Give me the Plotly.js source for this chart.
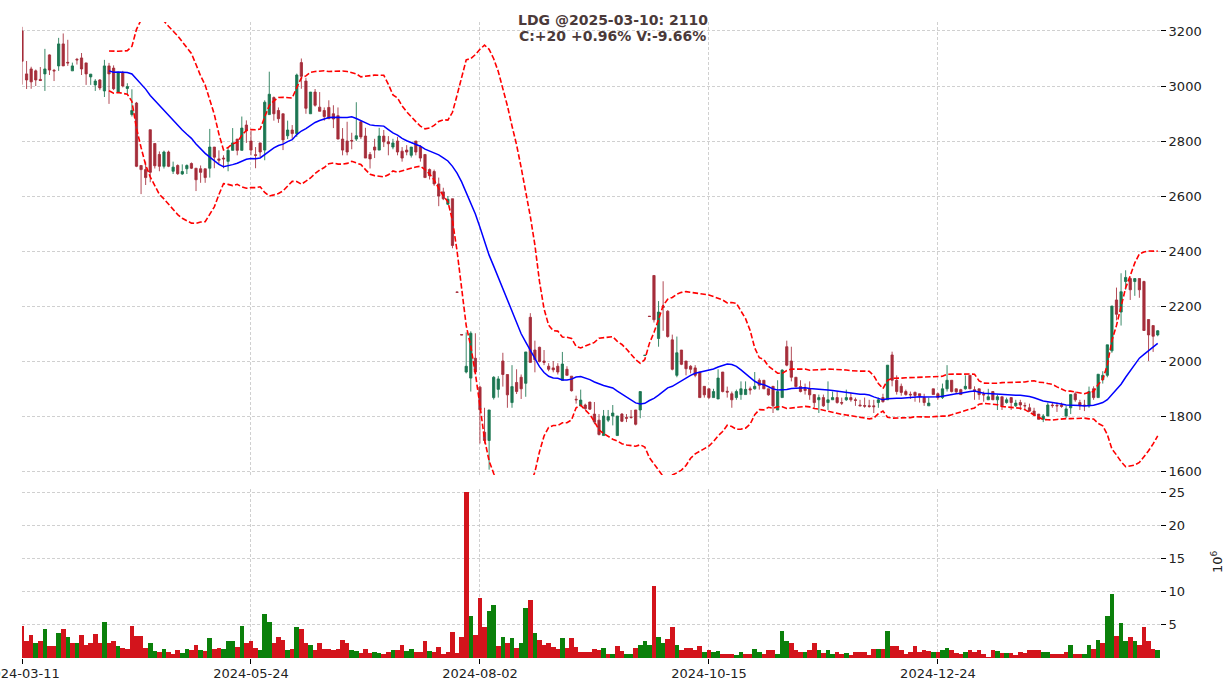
<!DOCTYPE html>
<html><head><meta charset="utf-8">
<script src="https://cdn.plot.ly/plotly-3.0.1.min.js"></script>
<style>html,body{margin:0;padding:0;background:#fff}#chart{width:1226px;height:690px}</style>
</head><body><div id="chart"></div>
<script>
const tickIdx = [0, 50, 100, 150, 200];
const tickText = ['2024-03-11', '2024-05-24', '2024-08-02', '2024-10-15', '2024-12-24'];

const openP = [
3200,3044,3062,3055,3024,3044,3113,3057,3073,3153,
3086,3055,3097,3102,3084,3033,3004,3022,2982,3073,
3065,2978,3049,2991,2896,2938,2711,2696,2841,2791,
2751,2708,2760,2690,2711,2680,2699,2718,2701,2699,
2699,2701,2778,2735,2738,2726,2766,2807,2766,2858,
2800,2750,2793,2767,2896,2958,2911,2899,2819,2840,
2827,3085,3018,2899,2978,2923,2911,2922,2899,2892,
2807,2800,2802,2807,2870,2818,2751,2778,2767,2818,
2797,2778,2800,2763,2767,2748,2800,2778,2751,2696,
2689,2644,2615,2570,2590,2251,2096,1960,1938,2010,
1905,1741,1711,1867,1897,2000,1951,1849,1922,1941,
1919,2159,2040,2050,2000,1981,1975,1981,1930,1970,
1945,1861,1837,1840,1851,1807,1785,1729,1785,1800,
1729,1807,1795,1796,1822,1822,2020,2163,2311,2082,
2200,2181,2077,1948,2040,2000,1981,1975,1960,1908,
1899,1867,1862,1960,1890,1881,1867,1878,1878,1899,
1899,1930,1930,1899,1908,1822,1867,2052,2000,1941,
1907,1899,1899,1878,1859,1867,1849,1859,1867,1849,
1859,1867,1859,1840,1838,1837,1837,1849,1867,1859,
2022,1930,1908,1889,1879,1886,1881,1867,1837,1899,
1881,1867,1899,1930,1899,1896,1899,1948,1896,1899,
1879,1859,1889,1859,1870,1849,1867,1837,1849,1838,
1830,1818,1807,1788,1800,1840,1839,1840,1800,1830,
1881,1849,1840,1837,1899,1867,1932,1948,2037,2222,
2178,2289,2300,2289,2300,2289,2151,2129,2095];

const highP = [
3215,3091,3070,3060,3069,3135,3115,3062,3175,3191,
3168,3085,3102,3120,3084,3044,3025,3025,3095,3084,
3075,3052,3055,3010,2988,2942,2711,2725,2841,2791,
2762,2765,2765,2725,2715,2715,2715,2722,2701,2711,
2699,2844,2778,2766,2748,2778,2847,2807,2889,2875,
2837,2778,2793,2948,3052,2962,2922,2899,2874,2858,
3045,3100,3030,2978,2989,2978,2922,2948,2930,2922,
2847,2870,2830,2941,2874,2848,2760,2808,2848,2840,
2818,2808,2815,2778,2785,2778,2800,2785,2751,2700,
2696,2667,2630,2600,2590,2251,2096,2104,2108,2101,
1910,1830,1822,1945,1945,2030,1951,1985,1970,1951,
2033,2174,2074,2052,2040,1992,2000,1992,2033,1981,
1945,1874,1896,1845,1851,1851,1807,1822,1822,1840,
1800,1811,1807,1822,1822,1889,2021,2163,2311,2218,
2290,2185,2096,2089,2040,2000,1985,1985,1960,1908,
1899,1899,1970,1960,1907,1889,1896,1926,1926,1907,
1960,1937,1930,1899,1908,1930,1970,2074,2052,1941,
1930,1918,1926,1878,1878,1878,1926,1889,1889,1867,
1896,1885,1867,1859,1867,1859,1859,1867,1881,1985,
2034,1948,1918,1896,1889,1889,1881,1881,1867,1899,
1885,1918,1985,1930,1899,1899,1948,1948,1908,1899,
1889,1899,1889,1878,1870,1867,1867,1859,1859,1849,
1845,1830,1807,1807,1849,1849,1849,1849,1837,1878,
1889,1859,1859,1907,1908,1952,1963,2059,2200,2267,
2319,2330,2304,2300,2300,2292,2151,2129,2112];

const lowP = [
3005,2989,2990,3000,3018,2982,3040,3018,3055,3073,
3073,3055,3078,3040,3004,3004,2982,2985,2960,2935,
2985,2975,2995,2970,2889,2705,2607,2640,2650,2700,
2690,2700,2705,2680,2677,2677,2680,2698,2618,2648,
2648,2667,2701,2715,2701,2690,2766,2748,2766,2793,
2748,2701,2741,2730,2896,2874,2866,2767,2807,2807,
2815,2990,2899,2899,2925,2908,2874,2881,2847,2807,
2748,2748,2770,2800,2807,2738,2700,2738,2767,2778,
2748,2770,2748,2725,2748,2740,2748,2725,2667,2660,
2637,2563,2585,2567,2410,2250,2095,1955,1889,1955,
1700,1700,1605,1860,1867,1907,1830,1830,1880,1862,
1870,1995,1959,1995,1985,1963,1959,1951,1930,1948,
1889,1845,1837,1822,1822,1770,1729,1729,1778,1766,
1729,1778,1778,1790,1766,1792,2020,2162,2140,2052,
2110,2085,1966,1941,1985,1948,1955,1941,1867,1867,
1862,1867,1862,1886,1867,1830,1859,1859,1878,1878,
1896,1896,1899,1874,1811,1822,1867,1981,1926,1904,
1886,1878,1859,1830,1811,1833,1822,1859,1845,1840,
1855,1852,1837,1837,1830,1830,1811,1830,1849,1859,
1908,1878,1874,1874,1862,1852,1849,1837,1837,1878,
1859,1862,1889,1886,1881,1878,1896,1899,1859,1859,
1852,1859,1859,1822,1822,1845,1822,1833,1822,1822,
1815,1800,1788,1778,1800,1830,1815,1830,1793,1807,
1852,1822,1818,1830,1859,1867,1918,1941,2030,2148,
2129,2259,2222,2237,2230,2111,2000,2033,2090];

const closeP = [
3090,3022,3015,3022,3020,3062,3058,3055,3153,3073,
3084,3073,3095,3062,3044,3043,3018,2993,3073,3044,
2990,3049,3000,2998,2911,2708,2696,2667,2686,2710,
2708,2760,2708,2705,2681,2689,2711,2701,2659,2686,
2667,2778,2741,2730,2735,2766,2793,2766,2847,2837,
2767,2748,2760,2941,2970,2899,2881,2804,2840,2827,
3040,3035,2919,2978,2930,2908,2889,2881,2880,2807,
2767,2760,2800,2819,2815,2738,2735,2767,2818,2797,
2790,2793,2760,2738,2760,2778,2760,2738,2667,2674,
2644,2600,2590,2588,2420,2250,2095,1981,2101,1960,
1823,1711,1822,1941,1935,1951,1877,1907,1889,1899,
2033,1995,2005,1998,1995,1970,1968,1960,1989,1948,
1892,1859,1858,1827,1825,1778,1733,1800,1798,1811,
1800,1781,1792,1795,1770,1889,2021,2162,2150,2178,
2195,2089,1970,2030,1988,1972,1970,1948,1867,1877,
1867,1889,1938,1889,1887,1859,1889,1899,1897,1895,
1908,1912,1899,1877,1837,1889,1967,1985,1941,1907,
1889,1893,1877,1849,1867,1837,1859,1867,1849,1847,
1867,1859,1857,1837,1836,1835,1834,1859,1852,1985,
1930,1889,1886,1878,1877,1875,1874,1849,1847,1878,
1867,1899,1930,1889,1888,1878,1908,1899,1889,1878,
1877,1870,1859,1870,1837,1859,1849,1847,1840,1837,
1818,1803,1788,1800,1840,1838,1837,1835,1826,1878,
1859,1837,1838,1889,1867,1952,1948,2059,2200,2170,
2252,2304,2259,2300,2259,2111,2095,2090,2110];

// volume in millions
const volume = [
4.8,2.6,3.4,2.3,2.5,4.4,1.8,1.8,3.7,4.4,
3.1,2.2,2.2,3.4,2.0,2.3,3.6,2.3,5.4,2.3,
2.6,1.8,1.5,1.4,4.75,3.3,3.3,1.5,2.3,1.05,
0.85,1.35,0.85,0.6,1.2,0.8,1.35,1.2,2.0,1.25,
1.05,3.0,1.35,1.5,1.35,2.6,2.6,1.7,4.75,2.2,
2.5,1.5,1.2,6.7,5.4,2.2,3.2,2.7,1.2,1.35,
4.6,4.4,2.2,2.0,1.2,2.2,1.35,1.35,1.2,1.35,
2.7,2.2,1.2,1.05,0.75,1.35,0.75,0.85,0.75,0.55,
0.9,1.2,1.2,2.0,1.05,1.35,0.85,0.85,2.6,1.05,
0.85,1.7,0.55,0.85,3.95,0.75,3.1,25.0,6.3,3.5,
9.1,4.6,7.1,8.0,1.8,3.1,2.3,3.0,1.5,2.3,
7.5,8.8,3.7,2.7,2.0,2.3,1.7,1.3,3.0,1.5,
3.0,1.7,0.9,0.9,0.85,1.35,1.2,1.5,0.6,0.6,
1.8,1.05,0.6,0.6,1.5,2.0,2.6,2.0,10.8,3.1,
2.3,2.8,4.6,2.0,1.2,1.5,1.5,1.2,1.8,0.85,
1.2,0.85,1.05,0.6,0.6,0.6,0.45,0.9,0.6,0.6,
1.35,0.85,0.6,1.2,1.2,0.6,4.1,2.6,2.3,1.2,
0.85,0.85,1.2,2.2,1.2,0.75,1.2,0.6,0.85,0.6,
0.75,0.45,0.9,0.85,0.85,0.45,1.35,1.35,1.35,4.1,
1.8,1.8,1.2,0.6,0.85,1.85,0.85,1.2,1.05,0.85,
0.9,1.2,1.5,1.2,0.75,0.55,0.9,1.2,0.9,1.2,
0.6,0.15,1.2,1.05,0.75,0.75,0.75,0.45,0.9,0.75,
1.2,1.2,1.2,0.85,0.85,0.6,0.6,0.6,0.85,1.95,
0.6,0.6,0.6,2.0,1.35,2.7,2.3,6.4,9.6,3.3,
5.2,2.6,3.1,2.6,2.0,4.6,2.5,1.35,1.22];

const titleLine1 = 'LDG @2025-03-10: 2110';
const titleLine2 = 'C:+20 +0.96% V:-9.66%';

// ---- derived ----
const idx = closeP.map((_, i) => i);
const N = 20, K = 2;
const ma = [], bbUp = [], bbLo = [];
for (let i = 0; i < closeP.length; i++) {
  if (i < N - 1) { ma.push(null); bbUp.push(null); bbLo.push(null); continue; }
  const w = closeP.slice(i - N + 1, i + 1);
  const m = w.reduce((a, b) => a + b, 0) / N;
  const sd = Math.sqrt(w.reduce((a, b) => a + (b - m) * (b - m), 0) / (N - 1));
  ma.push(m); bbUp.push(m + K * sd); bbLo.push(m - K * sd);
}
const VUP = '#0b800b', VDN = '#d3141c';
const vcol = closeP.map((c, i) => (i > 0 && c > closeP[i - 1]) ? VUP : VDN);

const FONT = 'DejaVu Sans, Verdana, sans-serif';
const GRID = '#c4c4c4';

const traces = [
  {
    type: 'candlestick', x: idx, open: openP, high: highP, low: lowP, close: closeP,
    xaxis: 'x', yaxis: 'y2', whiskerwidth: 0,
    increasing: { line: { color: 'rgba(26,117,80,0.85)', width: 1 }, fillcolor: '#1c7552' },
    decreasing: { line: { color: 'rgba(165,45,58,0.85)', width: 1 }, fillcolor: '#a52d3a' },
    hoverinfo: 'skip', showlegend: false
  },
  { type: 'scatter', mode: 'lines', x: idx, y: ma, xaxis: 'x', yaxis: 'y2',
    line: { color: '#0000ff', width: 1.5 }, hoverinfo: 'skip', showlegend: false },
  { type: 'scatter', mode: 'lines', x: idx, y: bbUp, xaxis: 'x', yaxis: 'y2',
    line: { color: '#ff0000', width: 1.6, dash: '5.5px,2.4px' }, hoverinfo: 'skip', showlegend: false },
  { type: 'scatter', mode: 'lines', x: idx, y: bbLo, xaxis: 'x', yaxis: 'y2',
    line: { color: '#ff0000', width: 1.6, dash: '5.5px,2.4px' }, hoverinfo: 'skip', showlegend: false },
  { type: 'bar', x: idx, y: volume, xaxis: 'x', yaxis: 'y',
    marker: { color: vcol, line: { width: 0 } }, hoverinfo: 'skip', showlegend: false }
];

const layout = {
  width: 1226, height: 690,
  margin: { l: 22, r: 66, t: 22, b: 32 },
  paper_bgcolor: '#ffffff', plot_bgcolor: '#ffffff',
  font: { family: FONT, size: 13, color: '#222222' },
  bargap: 0, showlegend: false,
  xaxis: {
    range: [0, 248.5], tickmode: 'array', tickvals: tickIdx, ticktext: tickText,
    showgrid: true, gridcolor: GRID, griddash: '3px,2px', gridwidth: 0.8,
    ticks: 'outside', ticklen: 5, tickcolor: '#000', tickwidth: 1,
    ticklabeloverflow: 'allow', ticklabelstandoff: -2,
    zeroline: false, showline: false, anchor: 'y', automargin: false,
    rangeslider: { visible: false }, tickfont: { size: 13 }, fixedrange: true
  },
  yaxis: {
    domain: [0, 0.2657], range: [0, 25.45], side: 'right', anchor: 'x',
    tickmode: 'array', tickvals: [5, 10, 15, 20, 25], ticktext: ['5', '10', '15', '20', '25'],
    showgrid: true, gridcolor: GRID, griddash: '3px,2px', gridwidth: 0.8,
    ticks: 'outside', ticklen: 5, tickcolor: '#000', zeroline: false, showline: false,
    automargin: false, tickfont: { size: 13 }
  },
  yaxis2: {
    domain: [0.2877, 1], range: [1585.5, 3232.7], side: 'right', anchor: 'x',
    tickmode: 'array', tickvals: [1600, 1800, 2000, 2200, 2400, 2600, 2800, 3000, 3200],
    showgrid: true, gridcolor: GRID, griddash: '3px,2px', gridwidth: 0.8,
    ticks: 'outside', ticklen: 5, tickcolor: '#000', zeroline: false, showline: false,
    automargin: false, tickfont: { size: 13 }
  },
  annotations: [
    { text: '<b>' + titleLine1 + '</b>', xref: 'paper', yref: 'paper', x: 0.5193, y: (658 - 20) / 636,
      xanchor: 'center', yanchor: 'middle', showarrow: false, font: { family: FONT, size: 14, color: '#4b3a3a' } },
    { text: '<b>' + titleLine2 + '</b>', xref: 'paper', yref: 'paper', x: 0.5193, y: (658 - 36) / 636,
      xanchor: 'center', yanchor: 'middle', showarrow: false, font: { family: FONT, size: 14, color: '#4b3a3a' } },
    { text: '10<sup>6</sup>', xref: 'paper', yref: 'paper', x: (1217 - 22) / 1138, y: (658 - 562) / 636,
      xanchor: 'center', yanchor: 'middle', showarrow: false, textangle: -90, font: { family: FONT, size: 13, color: '#222' } }
  ]
};

Plotly.newPlot('chart', traces, layout, { displayModeBar: false, staticPlot: true });
</script>
</body></html>
